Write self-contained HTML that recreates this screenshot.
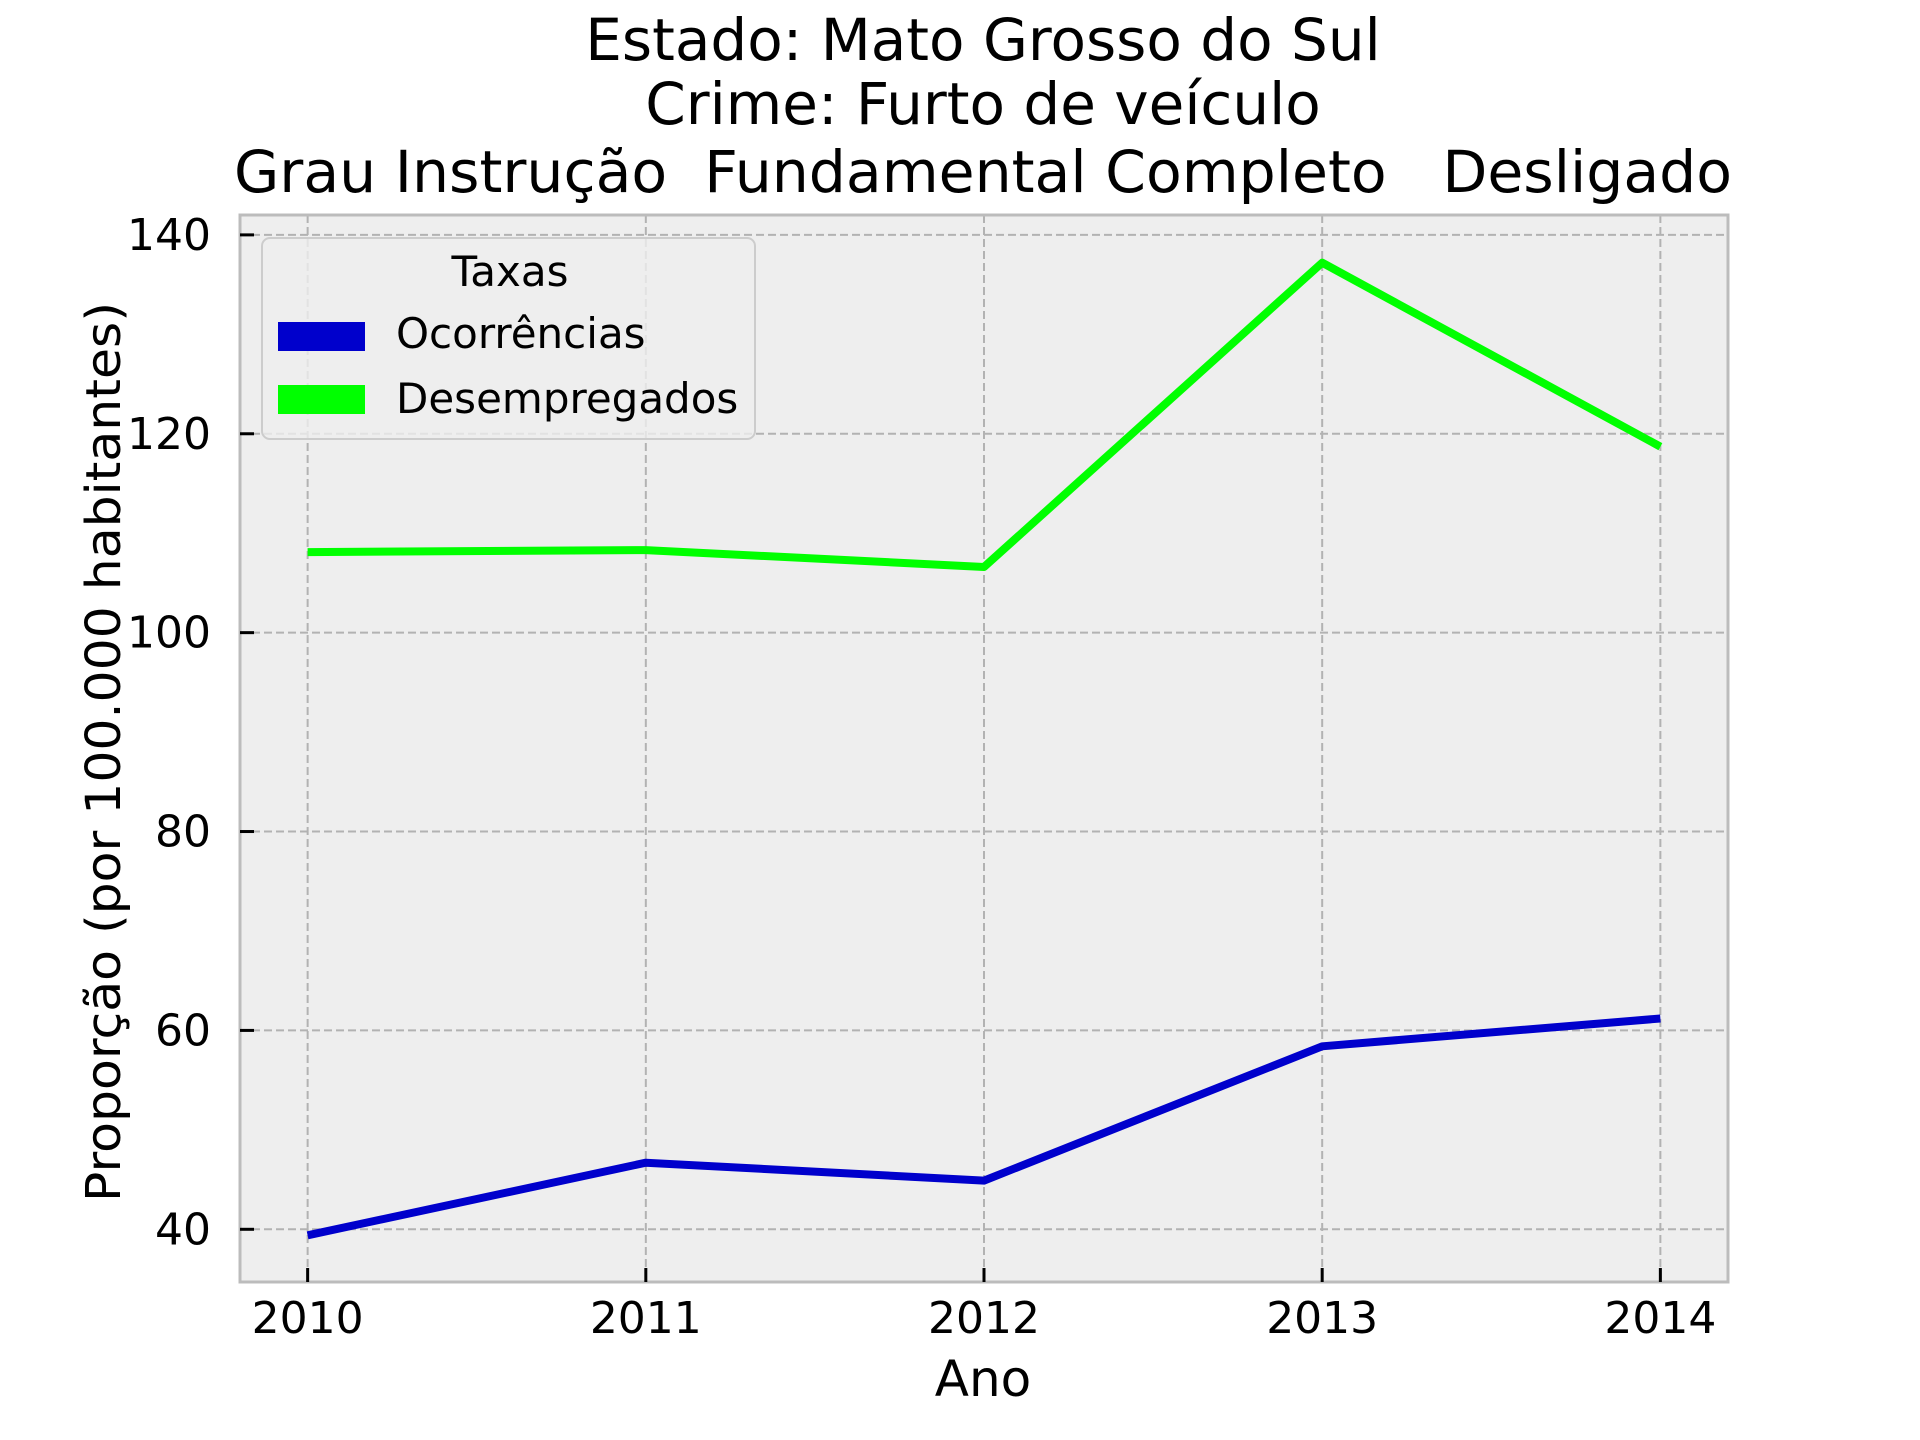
<!DOCTYPE html>
<html><head><meta charset="utf-8"><style>
body{margin:0;background:#fff}
svg{display:block;font-family:"DejaVu Sans","Liberation Sans",sans-serif}
text{white-space:pre}
</style></head><body>
<svg id="chart" width="1920" height="1440" viewBox="0 0 1920 1440">
<g font-size="58" text-anchor="middle" fill="#000">
<text x="983" y="60">Estado: Mato Grosso do Sul</text>
<text x="983" y="124">Crime: Furto de veículo</text>
<text x="983" y="192" xml:space="preserve" textLength="1498" lengthAdjust="spacingAndGlyphs">Grau Instrução  Fundamental Completo   Desligado</text>
</g>
<rect x="240" y="215" width="1488" height="1067" fill="#eeeeee"/>
<g id="grid"></g>
<g id="series"></g>
<rect x="240" y="215" width="1488" height="1067" fill="none" stroke="#bcbcbc" stroke-width="3"/>
<g id="ticks"></g>
<text x="983" y="1396" font-size="50" text-anchor="middle">Ano</text>
<text transform="translate(120,752) rotate(-90)" font-size="48" text-anchor="middle" textLength="900" lengthAdjust="spacingAndGlyphs">Proporção (por 100.000 habitantes)</text>
<g>
<rect x="262" y="238" width="493" height="201" rx="8" fill="#eeeeee" fill-opacity="0.8" stroke="#cccccc" stroke-width="2"/>
<text x="510" y="286" font-size="42" text-anchor="middle">Taxas</text>
<rect x="278" y="322" width="87" height="29" fill="#0000cc"/>
<text x="396" y="348" font-size="42">Ocorrências</text>
<rect x="278" y="385" width="87" height="29" fill="#00ff00"/>
<text x="396" y="413" font-size="42">Desempregados</text>
</g>
</svg>
<script>
const years = [2010, 2011, 2012, 2013, 2014];
const ocorrencias = [39.4, 46.7, 44.9, 58.4, 61.2];
const desempregados = [108.1, 108.3, 106.6, 137.2, 118.7];
const yTicks = [40, 60, 80, 100, 120, 140];
const NS = "http://www.w3.org/2000/svg";
const X0 = 240, X1 = 1728, Y0 = 215, Y1 = 1282;
const xmin = years[0] - 0.2, xmax = years[years.length - 1] + 0.2;
const ymin = 34.7, ymax = 142.0;
function xs(v){ return X0 + (v - xmin) / (xmax - xmin) * (X1 - X0); }
function ys(v){ return Y1 - (v - ymin) / (ymax - ymin) * (Y1 - Y0); }
function mk(tag, attrs, parent){ const e = document.createElementNS(NS, tag); for (const k in attrs) e.setAttribute(k, attrs[k]); parent.appendChild(e); return e; }
const grid = document.getElementById('grid'), ticks = document.getElementById('ticks'), series = document.getElementById('series');
years.forEach(y => {
  const g = mk('line', {x1: xs(y), x2: xs(y), y1: Y0, y2: Y1, stroke: '#b2b2b2', 'stroke-width': 2, 'stroke-dasharray': '8,4'}, grid);
  
  
  const t = mk('line', {x1: xs(y), x2: xs(y), y1: Y1 - 14, y2: Y1, stroke: '#000', 'stroke-width': 3}, ticks);
  
  
  const l = mk('text', {x: xs(y), y: 1333, 'font-size': 44, 'text-anchor': 'middle'}, ticks);
  l.textContent = y;
  
  
});
yTicks.forEach(v => {
  const g = mk('line', {x1: X0, x2: X1, y1: ys(v), y2: ys(v), stroke: '#b2b2b2', 'stroke-width': 2, 'stroke-dasharray': '8,4'}, grid);
  
  
  const t = mk('line', {x1: X0, x2: X0 + 14, y1: ys(v), y2: ys(v), stroke: '#000', 'stroke-width': 3}, ticks);
  
  
  const l = mk('text', {x: 211, y: ys(v) + 15, 'font-size': 44, 'text-anchor': 'end'}, ticks);
  l.textContent = v;
  
  
});
function drawLine(vals, color, name){
  const pts = vals.map((v, i) => xs(years[i]).toFixed(1) + ',' + ys(v).toFixed(1)).join(' ');
  const p = mk('polyline', {points: pts, fill: 'none', stroke: color, 'stroke-width': 8, 'stroke-linejoin': 'round'}, series);
  
  
}
drawLine(desempregados, '#00ff00', 'line-desempregados');
drawLine(ocorrencias, '#0000cc', 'line-ocorrencias');
</script>
</body></html>
